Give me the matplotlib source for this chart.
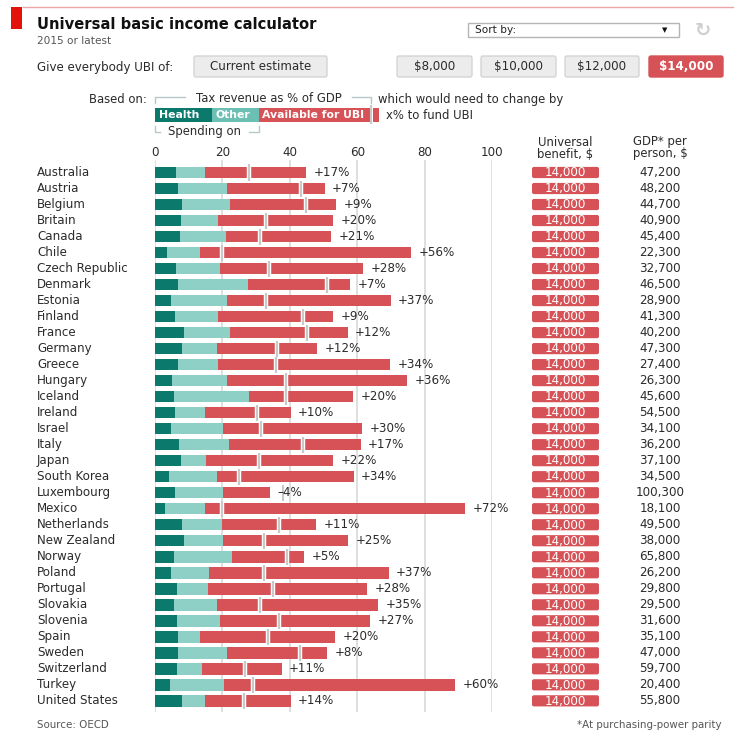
import matplotlib
matplotlib.use("Agg")
import matplotlib.pyplot as plt
import matplotlib.transforms as mtransforms
from matplotlib.patches import FancyBboxPatch, Rectangle
import numpy as np

plt.rcParams['font.family'] = ['DejaVu Sans']

# ---------------- data ----------------
countries = ["Australia", "Austria", "Belgium", "Britain", "Canada", "Chile",
             "Czech Republic", "Denmark", "Estonia", "Finland", "France", "Germany",
             "Greece", "Hungary", "Iceland", "Ireland", "Israel", "Italy", "Japan",
             "South Korea", "Luxembourg", "Mexico", "Netherlands", "New Zealand",
             "Norway", "Poland", "Portugal", "Slovakia", "Slovenia", "Spain",
             "Sweden", "Switzerland", "Turkey", "United States"]
health = [6.2, 6.8, 8.1, 7.8, 7.3, 3.6, 6.3, 6.8, 4.7, 5.8, 8.6, 8.1, 6.7, 5.0,
          5.7, 5.9, 4.6, 7.1, 7.8, 4.3, 5.9, 3.0, 8.0, 8.5, 5.7, 4.7, 6.4, 5.7,
          6.5, 6.8, 6.8, 6.6, 4.4, 8.1]
other = [8.7, 14.6, 14.1, 10.9, 13.9, 9.9, 13.0, 20.8, 16.7, 12.9, 13.6, 10.4,
         12.0, 16.5, 22.2, 9.0, 15.6, 15.0, 7.3, 14.1, 14.3, 11.8, 11.9, 11.8,
         17.2, 11.3, 9.3, 12.7, 12.9, 6.6, 14.7, 7.4, 16.1, 6.8]
tax_revenue = [27.8, 43.3, 44.8, 32.9, 31.2, 20.0, 33.8, 50.9, 32.9, 43.8, 45.2,
               36.2, 35.8, 38.8, 38.8, 30.3, 31.4, 44.0, 30.8, 25.0, 38.1, 20.0,
               36.9, 32.4, 39.2, 32.3, 34.9, 31.2, 36.9, 33.4, 43.1, 26.6, 29.0, 26.3]
change = [17, 7, 9, 20, 21, 56, 28, 7, 37, 9, 12, 12, 34, 36, 20, 10, 30, 17, 22,
          34, -4, 72, 11, 25, 5, 37, 28, 35, 27, 20, 8, 11, 60, 14]
benefit = [14000] * 34
gdp = [47200, 48200, 44700, 40900, 45400, 22300, 32700, 46500, 28900, 41300,
       40200, 47300, 27400, 26300, 45600, 54500, 34100, 36200, 37100, 34500,
       100300, 18100, 49500, 38000, 65800, 26200, 29800, 29500, 31600, 35100,
       47000, 59700, 20400, 55800]
ticks = [0, 20, 40, 60, 80, 100]
buttons = ["$8,000", "$10,000", "$12,000", "$14,000"]

# ---------------- style ----------------
C_HEALTH = "#0b7a6c"
C_OTHER = "#8fd0c6"
C_RED = "#d75256"
C_GRID = "#d9d9d9"
C_TEXT = "#2b2b2b"
C_GREY = "#555555"

W, H = 734, 742
fig = plt.figure(figsize=(W / 100, H / 100), dpi=100)
fig.patch.set_facecolor("white")

ov = fig.add_axes([0, 0, 1, 1], zorder=0)
ov.set_xlim(0, W)
ov.set_ylim(H, 0)
ov.axis("off")

ROW0 = 172.5
STEP = 16.01
TOP_PX, BOT_PX = 160, 712
X0_PX, X100_PX = 155, 492

ax = fig.add_axes([X0_PX / W, 1 - BOT_PX / H, (X100_PX - X0_PX) / W, (BOT_PX - TOP_PX) / H],
                  zorder=2)
ax.set_xlim(0, 100)
ax.set_ylim((BOT_PX - ROW0) / STEP, (TOP_PX - ROW0) / STEP)
ax.axis("off")
ax.patch.set_alpha(0)

n = len(countries)
y = np.arange(n)
health = np.array(health)
other = np.array(other)
tax_revenue = np.array(tax_revenue)
change = np.array(change)
total = tax_revenue + change
avail_start = health + other

# gridlines
ymin, ymax = ax.get_ylim()
ax.vlines(ticks, ymax, ymin, color=C_GRID, lw=1.2, zorder=0)

BH = 0.72
ax.barh(y, health, height=BH, color=C_HEALTH, zorder=2, linewidth=0)
ax.barh(y, other, left=health, height=BH, color=C_OTHER, zorder=2, linewidth=0)
ax.barh(y, total - avail_start, left=avail_start, height=BH, color=C_RED, zorder=2, linewidth=0)
ax.vlines(tax_revenue, y - 0.5, y + 0.5, color="white", lw=3.2, zorder=3)
ax.vlines(tax_revenue, y - 0.5, y + 0.5, color="#c9c9c9", lw=1.5, zorder=4)

for i in range(n):
    lab = ("+%d%%" % change[i]) if change[i] >= 0 else ("\u2013%d%%" % abs(change[i]))
    ax.text(total[i] + 2.2, y[i], lab, va="center", ha="left", fontsize=8.6,
            color=C_TEXT, zorder=5, clip_on=False)

# tick labels
blend = mtransforms.blended_transform_factory(ax.transData, ov.transData)
for t in ticks:
    ax.text(t, 153, str(t), transform=blend, ha="center", va="center",
            fontsize=8.6, color=C_TEXT, clip_on=False)

# country labels, benefit badges, gdp
for i in range(n):
    yp = ROW0 + i * STEP
    ov.text(37, yp, countries[i], ha="left", va="center", fontsize=8.6, color=C_TEXT)
    ov.add_patch(FancyBboxPatch((532, yp - 5.6), 67, 11.2,
                                boxstyle="round,pad=0,rounding_size=2",
                                fc=C_RED, ec="none"))
    ov.text(565.5, yp + 0.3, "{:,}".format(benefit[i]), ha="center", va="center",
            fontsize=8.6, color="white")
    ov.text(660, yp, "{:,}".format(gdp[i]), ha="center", va="center",
            fontsize=8.6, color=C_TEXT)

# column headers
ov.text(565, 142, "Universal", ha="center", va="center", fontsize=8.4, color=C_TEXT)
ov.text(565, 154, "benefit, $", ha="center", va="center", fontsize=8.4, color=C_TEXT)
ov.text(660, 142, "GDP* per", ha="center", va="center", fontsize=8.4, color=C_TEXT)
ov.text(660, 154, "person, $", ha="center", va="center", fontsize=8.4, color=C_TEXT)

# ---------------- header ----------------
ov.plot([23, W], [6.5, 6.5], color="#eea5a5", lw=1.0)
ov.add_patch(Rectangle((11, 7), 10.5, 22, fc="#e3120b", ec="none"))
ov.text(37, 24.5, "Universal basic income calculator", ha="left", va="center",
        fontsize=10.6, fontweight="bold", color="#111111")
ov.text(37, 40.5, "2015 or latest", ha="left", va="center", fontsize=7.6, color=C_GREY)

# sort dropdown
ov.add_patch(Rectangle((468, 23), 211, 14, fc="white", ec="#b5b5b5", lw=1))
ov.text(475, 30.3, "Sort by:", ha="left", va="center", fontsize=7.6, color="#222222")
ov.text(665, 30.5, "\u25BC", ha="center", va="center", fontsize=5, color="#111111")
ov.text(703, 30.5, "\u21BB", ha="center", va="center", fontsize=14, color="#cfcfcf",
        fontweight="bold")

# UBI buttons
ov.text(37, 67, "Give everybody UBI of:", ha="left", va="center", fontsize=8.6, color=C_TEXT)
ov.add_patch(FancyBboxPatch((194, 56), 133, 21, boxstyle="round,pad=0,rounding_size=2",
                            fc="#ececec", ec="#d4d4d4", lw=1))
ov.text(260.5, 67, "Current estimate", ha="center", va="center", fontsize=8.6, color=C_TEXT)
bx = [397, 481, 565, 649]
bw = [75, 75, 74, 74]
for k, lab in enumerate(buttons):
    sel = (k == len(buttons) - 1)
    ov.add_patch(FancyBboxPatch((bx[k], 56), bw[k], 21,
                                boxstyle="round,pad=0,rounding_size=2",
                                fc=C_RED if sel else "#ececec",
                                ec=C_RED if sel else "#d4d4d4", lw=1))
    ov.text(bx[k] + bw[k] / 2, 67, lab, ha="center", va="center", fontsize=8.6,
            color="white" if sel else C_TEXT, fontweight="bold" if sel else "normal")

# ---------------- legend ----------------
ov.text(147, 99.5, "Based on:", ha="right", va="center", fontsize=8.4, color=C_TEXT)
bc = "#b9c7c9"
ov.plot([155, 155, 185], [103, 97, 97], color=bc, lw=1)
ov.plot([352, 371, 371], [97, 97, 103], color=bc, lw=1)
ov.text(269, 98.5, "Tax revenue as % of GDP", ha="center", va="center", fontsize=8.4,
        color=C_TEXT)
ov.text(378, 99.5, "which would need to change by", ha="left", va="center", fontsize=8.4,
        color=C_TEXT)
ov.add_patch(Rectangle((155, 108), 56.5, 13.5, fc=C_HEALTH, ec="none"))
ov.add_patch(Rectangle((211.5, 108), 47.5, 13.5, fc="#6cc0b3", ec="none"))
ov.add_patch(Rectangle((259, 108), 111, 13.5, fc=C_RED, ec="none"))
ov.add_patch(Rectangle((373, 108), 5.5, 13.5, fc=C_RED, ec="none"))
ov.plot([371.3, 371.3], [106, 123], color="#c9c9c9", lw=1.5)
ov.text(159, 115, "Health", ha="left", va="center", fontsize=7.8, color="white",
        fontweight="bold")
ov.text(215, 115, "Other", ha="left", va="center", fontsize=7.8, color="white",
        fontweight="bold")
ov.text(262, 115, "Available for UBI", ha="left", va="center", fontsize=7.8, color="white",
        fontweight="bold")
ov.text(386, 115.5, "x% to fund UBI", ha="left", va="center", fontsize=8.4, color=C_TEXT)
ov.plot([155, 155, 160], [126, 132, 132], color=bc, lw=1)
ov.plot([249, 259, 259], [132, 132, 126], color=bc, lw=1)
ov.text(204.5, 131.5, "Spending on", ha="center", va="center", fontsize=8.4, color=C_TEXT)

# ---------------- footer ----------------
ov.text(37, 725, "Source: OECD", ha="left", va="center", fontsize=7.4, color=C_GREY)
ov.text(722, 725, "*At purchasing-power parity", ha="right", va="center", fontsize=7.4,
        color=C_GREY)

fig.savefig("out.png", dpi=100, facecolor="white")
